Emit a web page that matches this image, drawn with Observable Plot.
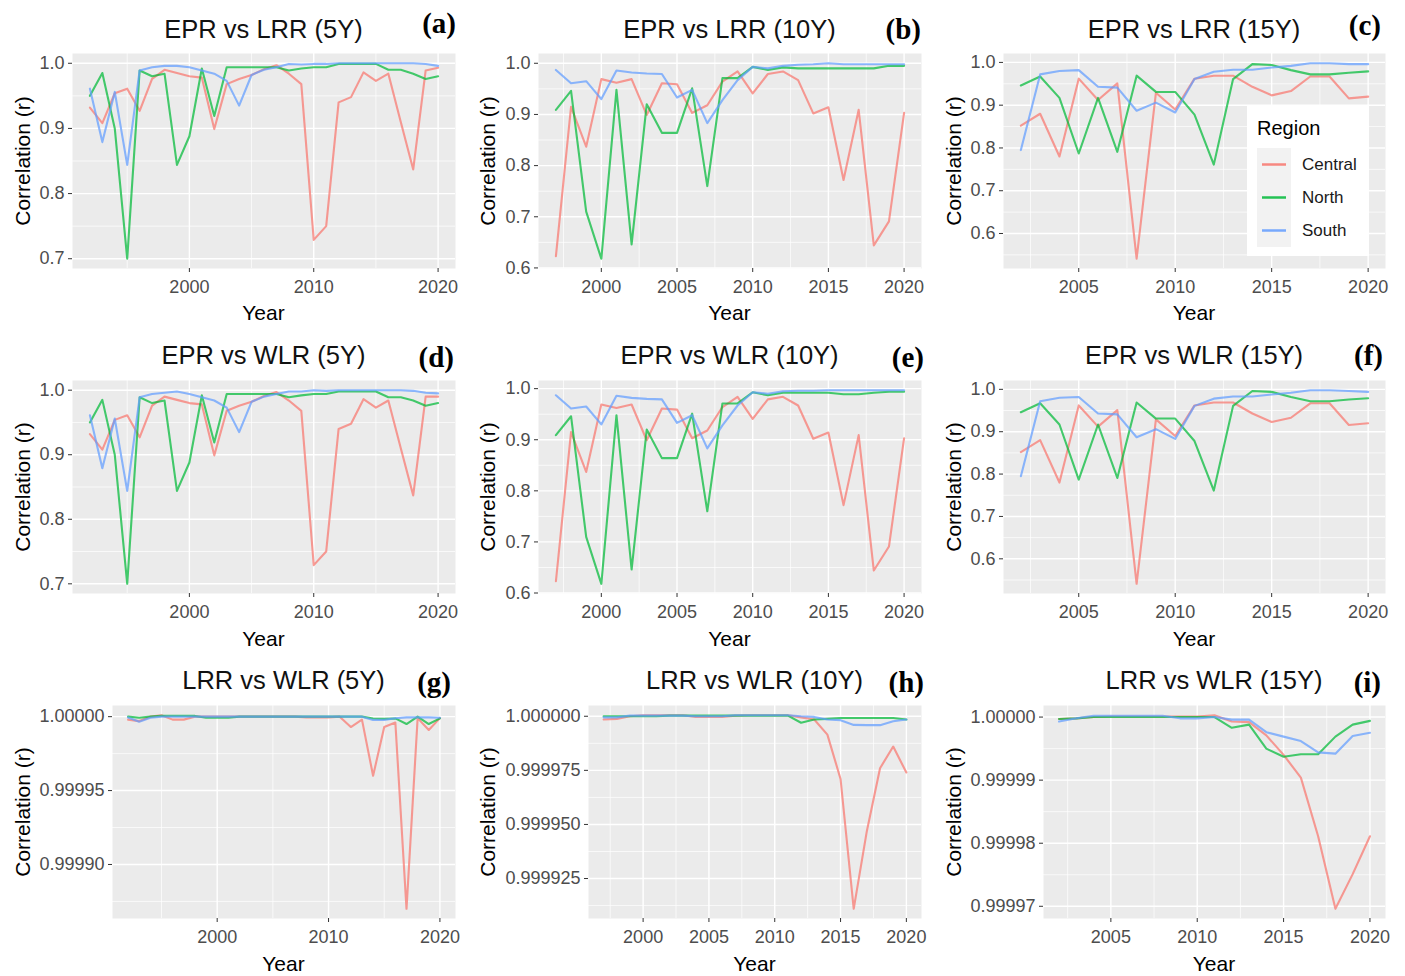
<!DOCTYPE html>
<html><head><meta charset="utf-8">
<script src="https://cdn.jsdelivr.net/npm/d3@7"></script>
<script src="https://cdn.jsdelivr.net/npm/@observablehq/plot@0.6"></script>
<style>
body{margin:0;background:#fff;font-family:"Liberation Sans",Arial,sans-serif;}
#root{position:relative;width:1405px;height:976px;overflow:hidden;background:#fff;}
.abs{position:absolute;white-space:nowrap;line-height:1;}
.title{font-size:25.5px;color:#111;transform:translate(-50%,-50%);}
.tag{font-family:"Liberation Serif",serif;font-weight:bold;font-size:29px;color:#000;transform:translate(-100%,-50%);}
.xlab{font-size:21px;color:#000;transform:translate(-50%,-50%);}
.ylab{font-size:21px;color:#000;transform:translate(-50%,-50%) rotate(-90deg);}
.legend{background:#fff;}
</style></head><body><div id="root"></div>
<script>
// ---------- data ----------
const regions = ["Central", "North", "South"];
const regionColors = ["#F8766D", "#00BA38", "#619CFF"];

const years5 = [1992,1993,1994,1995,1996,1997,1998,1999,2000,2001,2002,2003,2004,2005,2006,2007,2008,2009,2010,2011,2012,2013,2014,2015,2016,2017,2018,2019,2020];
const years10 = [1997,1998,1999,2000,2001,2002,2003,2004,2005,2006,2007,2008,2009,2010,2011,2012,2013,2014,2015,2016,2017,2018,2019,2020];
const years15 = [2002,2003,2004,2005,2006,2007,2008,2009,2010,2011,2012,2013,2014,2015,2016,2017,2018,2019,2020];

// EPR vs LRR (5Y)
const a_central = [0.932,0.908,0.954,0.961,0.927,0.976,0.990,0.985,0.980,0.978,0.899,0.968,0.976,0.982,0.991,0.997,0.984,0.968,0.729,0.750,0.940,0.948,0.986,0.973,0.984,0.910,0.837,0.989,0.993];
const a_north   = [0.950,0.985,0.900,0.700,0.989,0.980,0.984,0.844,0.888,0.992,0.919,0.994,0.994,0.994,0.994,0.994,0.989,0.992,0.994,0.994,0.999,0.999,0.999,0.999,0.990,0.990,0.984,0.976,0.980];
const a_south   = [0.961,0.879,0.956,0.844,0.989,0.994,0.996,0.996,0.994,0.989,0.984,0.973,0.935,0.982,0.990,0.994,0.999,0.998,0.999,0.999,1.000,1.000,1.000,1.000,1.000,1.000,1.000,0.999,0.996];
// EPR vs LRR (10Y)
const b_central = [0.623,0.915,0.837,0.969,0.962,0.969,0.899,0.961,0.959,0.903,0.918,0.964,0.984,0.941,0.979,0.984,0.967,0.902,0.914,0.772,0.909,0.644,0.691,0.903];
const b_north   = [0.909,0.946,0.710,0.618,0.948,0.646,0.920,0.864,0.864,0.951,0.760,0.971,0.971,0.993,0.987,0.992,0.990,0.990,0.990,0.990,0.990,0.990,0.995,0.995];
const b_south   = [0.987,0.961,0.965,0.930,0.986,0.982,0.980,0.979,0.933,0.948,0.883,0.928,0.967,0.993,0.990,0.995,0.997,0.998,1.000,0.998,0.998,0.998,0.998,0.998];
// EPR vs LRR (15Y)
const c_central = [0.852,0.880,0.780,0.962,0.912,0.951,0.541,0.929,0.890,0.962,0.969,0.969,0.943,0.923,0.933,0.967,0.967,0.916,0.920];
const c_north   = [0.946,0.967,0.917,0.787,0.917,0.791,0.969,0.931,0.931,0.878,0.761,0.961,0.996,0.994,0.982,0.972,0.972,0.976,0.979];
const c_south   = [0.795,0.972,0.980,0.982,0.943,0.941,0.887,0.906,0.883,0.961,0.978,0.983,0.983,0.988,0.992,0.998,0.998,0.996,0.996];
// EPR vs WLR (5Y)
const d_central = [0.932,0.908,0.954,0.961,0.927,0.976,0.990,0.985,0.980,0.978,0.899,0.968,0.976,0.982,0.991,0.997,0.984,0.968,0.729,0.750,0.940,0.948,0.986,0.973,0.984,0.910,0.837,0.990,0.990];
const d_north   = [0.950,0.985,0.900,0.700,0.989,0.980,0.984,0.844,0.888,0.992,0.919,0.994,0.994,0.994,0.994,0.994,0.989,0.992,0.994,0.994,0.998,0.998,0.998,0.998,0.989,0.989,0.984,0.976,0.980];
const d_south   = [0.961,0.879,0.956,0.844,0.989,0.994,0.996,0.998,0.994,0.989,0.984,0.973,0.935,0.982,0.990,0.994,0.998,0.998,1.000,0.999,1.000,1.000,1.000,1.000,1.000,1.000,0.999,0.996,0.995];
// EPR vs WLR (10Y)
const e_central = [0.623,0.915,0.837,0.969,0.962,0.969,0.899,0.961,0.959,0.903,0.918,0.964,0.984,0.941,0.979,0.984,0.967,0.902,0.914,0.772,0.909,0.644,0.691,0.903];
const e_north   = [0.909,0.946,0.710,0.618,0.948,0.646,0.920,0.864,0.864,0.951,0.760,0.971,0.971,0.993,0.987,0.992,0.992,0.992,0.992,0.989,0.989,0.992,0.994,0.994];
const e_south   = [0.987,0.961,0.965,0.930,0.986,0.982,0.980,0.979,0.933,0.948,0.883,0.928,0.967,0.993,0.990,0.995,0.996,0.996,0.997,0.997,0.997,0.997,0.997,0.997];
// EPR vs WLR (15Y)
const f_central = [0.852,0.880,0.780,0.962,0.912,0.951,0.541,0.929,0.890,0.962,0.969,0.969,0.943,0.923,0.933,0.967,0.967,0.916,0.920];
const f_north   = [0.946,0.967,0.917,0.787,0.917,0.791,0.969,0.931,0.931,0.878,0.761,0.961,0.996,0.994,0.982,0.972,0.972,0.976,0.979];
const f_south   = [0.795,0.972,0.980,0.982,0.943,0.941,0.887,0.906,0.883,0.961,0.978,0.983,0.983,0.988,0.992,0.998,0.998,0.996,0.994];
// LRR vs WLR (5Y)
const g_central = [0.999998,0.999997,1.0,1.000001,0.999998,0.999998,1.0,1.0,1.0,1.0,1.0,1.0,1.0,1.0,1.0,1.0,0.9999995,0.9999995,0.9999995,1.0,0.999993,0.999998,0.99996,0.999993,0.999996,0.99987,0.999999,0.999991,0.999999];
const g_north   = [1.0,0.9999993,1.0,1.0000005,1.0000005,1.0000005,1.0000005,0.9999993,0.9999993,0.9999993,1.0,1.0,1.0,1.0,1.0,1.0,1.0,1.0,1.0,1.0,1.0,1.0,0.9999988,0.9999985,0.9999988,0.999995,1.0,0.999995,0.9999988];
const g_south   = [0.9999995,0.9999966,0.9999993,1.0,1.0,1.0,1.0,1.0,1.0,1.0,1.0,1.0,1.0,1.0,1.0,1.0,1.0,1.0,1.0,1.0,1.0,1.0,0.9999978,0.9999978,0.9999989,0.9999995,0.9999995,0.9999995,0.9999993];
// LRR vs WLR (10Y)
const h_central = [0.9999985,0.9999988,1.0,1.0000005,1.0000005,1.0000005,1.0000005,0.9999997,0.9999997,0.9999997,1.0000003,1.0000005,1.0000005,1.0000005,1.0000005,0.9999995,0.9999985,0.9999915,0.999971,0.999911,0.999947,0.999976,0.999986,0.999974];
const h_north   = [1.0,1.0,1.0,1.0,1.0,1.0000003,1.0000003,1.0000003,1.0000003,1.0000003,1.0000003,1.0000003,1.0000003,1.0000003,1.0000003,0.999997,0.9999985,0.9999988,0.9999992,0.9999992,0.9999992,0.9999992,0.9999992,0.9999985];
const h_south   = [0.9999995,0.9999995,1.0000003,1.0000003,1.0000003,1.0000003,1.0000003,1.0,1.0,1.0,1.0000005,1.0000005,1.0000005,1.0000005,1.0000005,1.0,0.9999997,0.9999985,0.9999982,0.999996,0.9999959,0.9999959,0.9999977,0.9999985];
// LRR vs WLR (15Y)
const i_central = [0.9999997,0.9999998,1.0,1.0000001,1.0000001,1.0000001,1.0000001,1.0000001,1.0000001,1.0000003,0.9999993,0.9999992,0.9999971,0.999994,0.9999904,0.9999811,0.9999696,0.9999751,0.9999811];
const i_north   = [0.9999997,0.9999998,1.0,1.0,1.0,1.0,1.0,1.0,1.0,1.0,0.9999983,0.9999988,0.999995,0.9999937,0.9999941,0.9999941,0.9999969,0.9999988,0.9999994];
const i_south   = [0.9999993,0.9999998,1.0000002,1.0000002,1.0000002,1.0000002,1.0000002,0.9999998,0.9999998,1.0,0.9999996,0.9999996,0.9999976,0.9999969,0.9999962,0.9999944,0.9999942,0.999997,0.9999975];

// tick labels
const xTicks5 = [2000, 2010, 2020];
const xTicks10 = [2000, 2005, 2010, 2015, 2020];
const xTicks15 = [2005, 2010, 2015, 2020];
const yTicksA = [0.7, 0.8, 0.9, 1.0];
const yTicksB = [0.6, 0.7, 0.8, 0.9, 1.0];
const yTicksC = [0.6, 0.7, 0.8, 0.9, 1.0];
const yTicksG = [0.9999, 0.99995, 1.0];
const yTicksH = [0.999925, 0.99995, 0.999975, 1.0];
const yTicksI = [0.99997, 0.99998, 0.99999, 1.0];

const titles = ["EPR vs LRR (5Y)","EPR vs LRR (10Y)","EPR vs LRR (15Y)","EPR vs WLR (5Y)","EPR vs WLR (10Y)","EPR vs WLR (15Y)","LRR vs WLR (5Y)","LRR vs WLR (10Y)","LRR vs WLR (15Y)"];
const tags = ["(a)","(b)","(c)","(d)","(e)","(f)","(g)","(h)","(i)"];

// ---------- panel definitions ----------
const panels = [
  {years: years5,  series: [a_central,a_north,a_south], xt: xTicks5,  yt: yTicksA, fmt: ".1f"},
  {years: years10, series: [b_central,b_north,b_south], xt: xTicks10, yt: yTicksB, fmt: ".1f"},
  {years: years15, series: [c_central,c_north,c_south], xt: xTicks15, yt: yTicksC, fmt: ".1f"},
  {years: years5,  series: [d_central,d_north,d_south], xt: xTicks5,  yt: yTicksA, fmt: ".1f"},
  {years: years10, series: [e_central,e_north,e_south], xt: xTicks10, yt: yTicksB, fmt: ".1f"},
  {years: years15, series: [f_central,f_north,f_south], xt: xTicks15, yt: yTicksC, fmt: ".1f"},
  {years: years5,  series: [g_central,g_north,g_south], xt: xTicks5,  yt: yTicksG, fmt: ".5f"},
  {years: years10, series: [h_central,h_north,h_south], xt: xTicks10, yt: yTicksH, fmt: ".6f"},
  {years: years15, series: [i_central,i_north,i_south], xt: xTicks15, yt: yTicksI, fmt: ".5f"}
];

// layout (pixels)
const cols = [{x: 0, w: 465, ylabX: 22}, {x: 465, w: 470, ylabX: 487}, {x: 935, w: 470, ylabX: 953}];
const rows = [
  {top: 53, bottom: 268, titleY: 30, xlabY: 312},
  {top: 380, bottom: 593, titleY: 356, xlabY: 638},
  {top: 705, bottom: 918, titleY: 681, xlabY: 963}
];
const panelLR = [[72,455],[538,921],[1003,1385],[72,455],[538,921],[1003,1385],[112,455],[588,921],[1043,1385]];
const tagPos = [[456,23],[921,29],[1381,25],[454,357],[924,357],[1383,355],[451,682],[924,682],[1381,682]];

const root = document.getElementById("root");
function addText(cls, txt, x, y) {
  const d = document.createElement("div");
  d.className = "abs " + cls;
  d.textContent = txt;
  d.style.left = x + "px";
  d.style.top = y + "px";
  root.appendChild(d);
  return d;
}
function expand(lo, hi) { const r = hi - lo; return [lo - 0.05 * r, hi + 0.05 * r]; }
function minors(major, dom) {
  const step = major[1] - major[0];
  const out = [major[0] - step / 2];
  for (let k = 0; k < major.length; k++) out.push(major[k] + step / 2);
  return out.filter(v => v > dom[0] && v < dom[1]);
}

panels.forEach((p, idx) => {
  const col = cols[idx % 3], row = rows[Math.floor(idx / 3)];
  const [pl, pr] = panelLR[idx];
  const data = [];
  p.series.forEach((s, k) => s.forEach((v, j) => data.push({year: p.years[j], r: v, region: regions[k]})));
  const xDom = expand(d3.min(p.years), d3.max(p.years));
  const yDom = expand(d3.min(data, d => d.r), d3.max(data, d => d.r));
  const mt = 8, mb = 30;
  const fmt = d3.format(p.fmt);
  const chart = Plot.plot({
    width: col.w,
    height: row.bottom - row.top + mt + mb,
    marginLeft: pl - col.x,
    marginRight: col.x + col.w - pr,
    marginTop: mt,
    marginBottom: mb,
    style: {fontFamily: "Liberation Sans, Arial, sans-serif", background: "transparent", overflow: "visible"},
    x: {domain: xDom, axis: null},
    y: {domain: yDom, axis: null},
    color: {domain: regions, range: regionColors},
    marks: [
      Plot.frame({fill: "#ebebeb", stroke: "none"}),
      Plot.gridY(minors(p.yt, yDom), {stroke: "#ffffff", strokeOpacity: 1, strokeWidth: 0.7}),
      Plot.gridX(minors(p.xt, xDom), {stroke: "#ffffff", strokeOpacity: 1, strokeWidth: 0.7}),
      Plot.gridY(p.yt, {stroke: "#ffffff", strokeOpacity: 1, strokeWidth: 1.4}),
      Plot.gridX(p.xt, {stroke: "#ffffff", strokeOpacity: 1, strokeWidth: 1.4}),
      Plot.axisX(p.xt, {anchor: "bottom", tickSize: 4, tickPadding: 8, fontSize: 18, fill: "#4d4d4d", stroke: "#333333", tickFormat: d3.format("d"), label: null}),
      Plot.axisY(p.yt, {anchor: "left", tickSize: 4, tickPadding: 4, fontSize: 18, fill: "#4d4d4d", stroke: "#333333", tickFormat: fmt, label: null}),
      Plot.line(data, {x: "year", y: "r", z: "region", stroke: "region", strokeWidth: 2.1, strokeOpacity: 0.72})
    ]
  });
  chart.style.position = "absolute";
  chart.style.left = col.x + "px";
  chart.style.top = (row.top - mt) + "px";
  root.appendChild(chart);

  const cx = (pl + pr) / 2;
  addText("title", titles[idx], cx, row.titleY);
  addText("tag", tags[idx], tagPos[idx][0], tagPos[idx][1]);
  addText("xlab", "Year", cx, row.xlabY);
  addText("ylab", "Correlation (r)", col.ylabX, (row.top + row.bottom) / 2);
});

// legend (inside panel c)
const lg = document.createElement("div");
lg.className = "abs legend";
lg.style.cssText = "left:1247px;top:105px;width:122px;height:151px;background:#fff;";
let html = '<div style="position:absolute;left:10px;top:13px;font-size:20px;color:#000;">Region</div>';
regions.forEach((r, k) => {
  const y = 43 + k * 33;
  html += `<div style="position:absolute;left:10px;top:${y}px;width:34px;height:33px;background:#f2f2f2;"></div>`;
  html += `<svg style="position:absolute;left:10px;top:${y}px" width="34" height="33"><line x1="5" x2="29" y1="16.5" y2="16.5" stroke="${regionColors[k]}" stroke-width="2.5" stroke-opacity="0.85"/></svg>`;
  html += `<div style="position:absolute;left:55px;top:${y + 8}px;font-size:17px;color:#1a1a1a;">${r}</div>`;
});
lg.innerHTML = html;
root.appendChild(lg);
</script></body></html>
